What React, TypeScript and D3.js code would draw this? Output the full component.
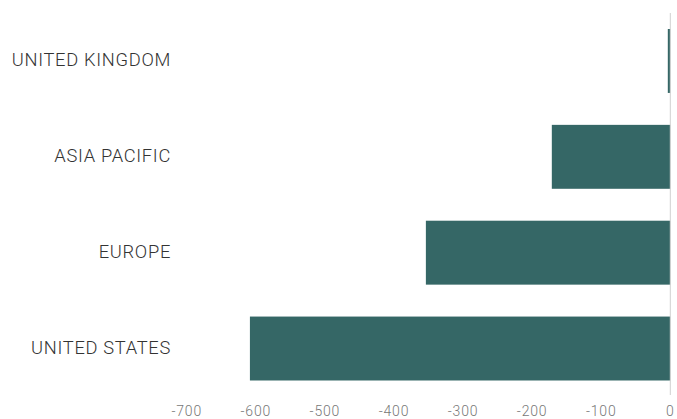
import React from "react";
import * as d3 from "d3";

const categories = ["UNITED KINGDOM", "ASIA PACIFIC", "EUROPE", "UNITED STATES"];
const values = [-3.6, -171.5, -353.8, -608.5];
const tickValues = [-700, -600, -500, -400, -300, -200, -100, 0];

const W = 677;
const H = 419;

export default function App() {
  const x = d3.scaleLinear().domain([-700, 0]).range([186.7, 670.3]);
  const y = d3
    .scaleBand<string>()
    .domain(categories)
    .range([13, 396.5])
    .paddingInner(0.333)
    .paddingOuter(0.167);
  return (
    <svg
      width={W}
      height={H}
      style={{ position: "absolute", left: 0, top: 0, background: "#fff" }}
      fontFamily="Roboto, sans-serif"
    >
      {categories.map((c, i) => (
        <g key={c}>
          <rect
            x={x(values[i])}
            y={y(c)}
            width={x(0) - x(values[i])}
            height={y.bandwidth()}
            fill="#356766"
          />
          <text
            x={171}
            y={(y(c) as number) + y.bandwidth() / 2 - 1.5}
            textAnchor="end"
            dominantBaseline="central"
            fontSize={18.3}
            fontWeight={300}
            letterSpacing={0.7}
            fill="#333"
          >
            {c}
          </text>
        </g>
      ))}
      <line x1={x(0)} x2={x(0)} y1={13} y2={395} stroke="#d0d0d0" strokeWidth={1} />
      {tickValues.map((t) => (
        <text
          key={t}
          x={x(t)}
          y={410.5}
          textAnchor="middle"
          dominantBaseline="central"
          fontSize={14}
          fontWeight={300}
          letterSpacing={0.8}
          fill="#777"
        >
          {t}
        </text>
      ))}
    </svg>
  );
}
